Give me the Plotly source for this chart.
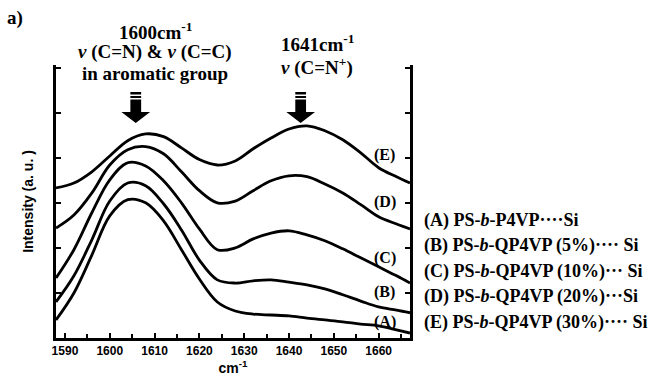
import plotly.graph_objects as go

# ---------------- data ----------------
wavenumber = [1588, 1592, 1596, 1600, 1604, 1608, 1612, 1616, 1620, 1624, 1628,
              1632, 1636, 1640, 1644, 1648, 1652, 1656, 1660, 1664, 1667]

curve_A = [0.40, 1.00, 1.84, 2.71, 3.07, 3.00, 2.60, 1.96, 1.31, 0.80, 0.60,
           0.53, 0.51, 0.49, 0.44, 0.40, 0.36, 0.31, 0.27, 0.18, 0.11]
curve_B = [0.80, 1.38, 2.18, 3.04, 3.44, 3.38, 2.98, 2.40, 1.73, 1.29, 1.22,
           1.27, 1.29, 1.24, 1.18, 1.09, 0.96, 0.82, 0.69, 0.62, 0.56]
curve_C = [1.33, 1.96, 2.78, 3.51, 3.89, 3.82, 3.49, 3.00, 2.42, 1.96, 2.00,
           2.20, 2.33, 2.38, 2.29, 2.16, 1.98, 1.78, 1.58, 1.38, 1.22]
curve_D = [2.44, 2.73, 3.22, 3.84, 4.18, 4.25, 4.09, 3.69, 3.27, 3.00, 3.04,
           3.27, 3.49, 3.60, 3.58, 3.42, 3.22, 2.96, 2.69, 2.53, 2.42]
curve_E = [3.33, 3.44, 3.69, 4.04, 4.38, 4.53, 4.47, 4.22, 3.96, 3.84, 3.93,
           4.20, 4.44, 4.64, 4.71, 4.60, 4.40, 4.11, 3.78, 3.58, 3.44]

curve_names = ["(A)", "(B)", "(C)", "(D)", "(E)"]
label_y = [0.36, 1.02, 1.78, 3.02, 4.07]
label_x = 1661.4

legend_lines = [
    "(A) PS-<i>b</i>-P4VP····Si",
    "(B) PS-<i>b</i>-QP4VP (5%)···· Si",
    "(C) PS-<i>b</i>-QP4VP (10%)··· Si",
    "(D) PS-<i>b</i>-QP4VP (20%)···Si",
    "(E) PS-<i>b</i>-QP4VP (30%)···· Si",
]

x_ticks = [1590, 1600, 1610, 1620, 1630, 1640, 1650, 1660]
arrow_positions = [1605.8, 1642.6]

# ---------------- figure ----------------
SERIF = "Liberation Serif"
SANS = "Liberation Sans"

fig = go.Figure()
for name, ys in zip(curve_names, [curve_A, curve_B, curve_C, curve_D, curve_E]):
    fig.add_trace(go.Scatter(x=wavenumber, y=ys, mode="lines", name=name,
                             line=dict(color="black", width=2.8, shape="spline", smoothing=1.0),
                             showlegend=False, hoverinfo="skip"))

W, H = 652, 382
ml, mr, mt, mb = 56, 242, 65, 44
fig.update_layout(
    width=W, height=H,
    margin=dict(l=ml, r=mr, t=mt, b=mb, autoexpand=False),
    paper_bgcolor="white", plot_bgcolor="white",
    font=dict(family=SANS, color="black"),
)

fig.update_xaxes(
    range=[1588, 1667], tickvals=x_ticks, ticktext=[str(v) for v in x_ticks],
    ticks="inside", ticklen=5, tickwidth=2, tickcolor="black",
    minor=dict(dtick=5, tick0=1590, ticks="inside", ticklen=4, tickwidth=2, tickcolor="black"),
    showline=True, linecolor="black", linewidth=3, mirror=False,
    showgrid=False, zeroline=False, automargin=False,
    tickfont=dict(family=SANS, size=12, color="black", weight="bold"),
    title=dict(text="cm<sup>-1</sup>", font=dict(family=SANS, size=14, color="black", weight="bold"),
               standoff=0),
)
fig.update_yaxes(
    range=[0, 6.06], dtick=1, tick0=0, showticklabels=False,
    ticks="inside", ticklen=5, tickwidth=2, tickcolor="black",
    showline=True, linecolor="black", linewidth=3, mirror="ticks",
    showgrid=False, zeroline=False, automargin=False,
    title=dict(text="Intensity (a. u. )", font=dict(family=SANS, size=14, color="black", weight="bold"),
               standoff=17),
)

# curve labels
for name, yv_ in zip(curve_names, label_y):
    fig.add_annotation(x=label_x, y=yv_, xref="x", yref="y", text=name, showarrow=False,
                       font=dict(family=SERIF, size=16, color="black", weight="bold"))

# legend text block
plot_w = W - ml - mr
plot_h = H - mt - mb
legend_py = [220, 245.5, 271, 296.5, 322]
for txt, py in zip(legend_lines, legend_py):
    fig.add_annotation(x=(422 - ml) / plot_w, y=(H - mb - py) / plot_h, xref="paper", yref="paper",
                       text=txt, showarrow=False, xanchor="left", yanchor="middle",
                       font=dict(family=SERIF, size=18, color="black", weight="bold"))

# top annotations
def add_text(px, py, txt, size):
    fig.add_annotation(x=(px - ml) / plot_w, y=(H - mb - py) / plot_h, xref="paper", yref="paper",
                       text=txt, showarrow=False, xanchor="center", yanchor="middle",
                       font=dict(family=SERIF, size=size, color="black", weight="bold"))

fig.add_annotation(x=(5 - ml) / plot_w, y=(H - mb - 18) / plot_h, xref="paper", yref="paper",
                   text="a)", showarrow=False, xanchor="left", yanchor="middle",
                   font=dict(family=SERIF, size=19, color="black", weight="bold"))
add_text(155, 31, "1600cm<sup>-1</sup>", 19)
add_text(155, 52, "<i>ν</i> (C=N) &amp; <i>ν</i> (C=C)", 19)
add_text(155, 73, "in aromatic group", 19)
add_text(317, 43, "1641cm<sup>-1</sup>", 19)
add_text(317, 66, "<i>ν</i> (C=N<sup>+</sup>)", 19)

# block arrows (data x, data y)
def yv(py):
    return (H - mb - py) / plot_h * 6.06

for xc in arrow_positions:
    sx = 1.2
    hx = 3.2
    for (y0, y1) in [(92, 94.5), (96, 98)]:
        fig.add_shape(type="rect", xref="x", yref="y", x0=xc - sx, x1=xc + sx, y0=yv(y1), y1=yv(y0),
                      fillcolor="black", line=dict(width=0))
    path = (f"M {xc - sx},{yv(99.5)} L {xc + sx},{yv(99.5)} L {xc + sx},{yv(112)} "
            f"L {xc + hx},{yv(112)} L {xc},{yv(123)} L {xc - hx},{yv(112)} L {xc - sx},{yv(112)} Z")
    fig.add_shape(type="path", xref="x", yref="y", path=path, fillcolor="black", line=dict(width=0))

fig.write_html("out.html", config={"displayModeBar": False},
               post_script="document.body.style.margin='0';document.body.style.overflow='hidden';")
